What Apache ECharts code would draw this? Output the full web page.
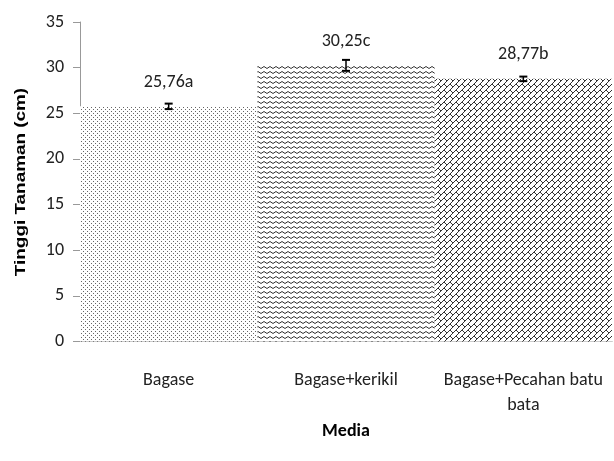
<!DOCTYPE html>
<html><head><meta charset="utf-8">
<script src="https://cdn.jsdelivr.net/npm/echarts@6/dist/echarts.min.js"></script>
<style>html,body{margin:0;padding:0;background:#fff}#c{width:614px;height:461px}</style>
</head><body><div id="c"></div>
<script>
var categories = ['Bagase', 'Bagase+kerikil', 'Bagase+Pecahan batu\nbata'];
var values = [25.76, 30.25, 28.77];
var errors = [0.3, 0.6, 0.25];
var letters = ['25,76a', '30,25c', '28,77b'];
var yTicks = { min: 0, max: 35, interval: 5 };
var yTitle = 'Tinggi Tanaman (cm)';
var xTitle = 'Media';

var FONT = 'Carlito, "Open Sans", sans-serif';

function makeCanvas(w, h, draw) {
  var c = document.createElement('canvas'); c.width = w; c.height = h;
  var g = c.getContext('2d'); g.fillStyle = '#fff'; g.fillRect(0, 0, w, h); draw(g); return c;
}
var dots = makeCanvas(4, 4, function (g) {
  g.fillStyle = '#666'; g.fillRect(1, 1, 1, 1); g.fillRect(3, 3, 1, 1);
});
var zig = makeCanvas(6, 5, function (g) {
  g.strokeStyle = '#333'; g.lineWidth = 1; g.beginPath();
  g.moveTo(0, 1.5); g.lineTo(3, 3.5); g.lineTo(6, 1.5); g.stroke();
});
var brick = makeCanvas(6, 6, function (g) {
  g.strokeStyle = '#333'; g.lineWidth = 1; g.beginPath();
  g.moveTo(-1, 7); g.lineTo(7, -1);
  g.moveTo(-1, 1); g.lineTo(1, -1);
  g.moveTo(5, 7); g.lineTo(7, 5);
  g.moveTo(0, 0); g.lineTo(3, 3);
  g.stroke();
});
var patterns = [dots, zig, brick];

var chart = echarts.init(document.getElementById('c'), null, { renderer: 'canvas' });
chart.setOption({
  animation: false,
  grid: { left: 80, right: 2, top: 22, bottom: 119.5, containLabel: false },
  graphic: [{
    type: 'text', x: 21, y: 182, rotation: Math.PI / 2, scaleX: 1.35,
    style: { text: yTitle, fontFamily: '"Liberation Sans", Arial, sans-serif', fontSize: 14, fontWeight: 'bold', fill: '#000', align: 'center', verticalAlign: 'middle' }
  }],
  xAxis: {
    type: 'category', data: categories,
    name: xTitle, nameLocation: 'middle', nameGap: 81,
    nameTextStyle: { fontFamily: FONT, fontSize: 18, fontWeight: 'bold', color: '#000' },
    axisLine: { lineStyle: { color: '#999' } },
    axisTick: { show: false },
    axisLabel: { fontFamily: FONT, fontSize: 18, color: '#222', margin: 26, lineHeight: 25, interval: 0 }
  },
  yAxis: {
    type: 'value', min: yTicks.min, max: yTicks.max, interval: yTicks.interval,
    axisLine: { show: true, lineStyle: { color: '#999' } },
    axisTick: { show: true, length: 7, lineStyle: { color: '#999' } },
    splitLine: { show: false },
    axisLabel: { fontFamily: FONT, fontSize: 18, color: '#222', margin: 16 }
  },
  series: [{
    type: 'bar', barCategoryGap: '0%',
    data: values.map(function (v, i) {
      return { value: v, itemStyle: { color: { image: patterns[i], repeat: 'repeat' } } };
    }),
    label: {
      show: true, position: 'top', distance: 15,
      fontFamily: FONT, fontSize: 18, color: '#222',
      formatter: function (p) { return letters[p.dataIndex]; }
    }
  }, {
    type: 'custom', z: 10,
    data: values.map(function (v, i) { return [i, v - errors[i], v + errors[i]]; }),
    renderItem: function (params, api) {
      var lo = api.coord([api.value(0), api.value(1)]);
      var hi = api.coord([api.value(0), api.value(2)]);
      var hw = 4;
      return {
        type: 'group', children: [
          { type: 'line', shape: { x1: lo[0], y1: lo[1], x2: hi[0], y2: hi[1] }, style: { stroke: '#000', lineWidth: 1.5 } },
          { type: 'line', shape: { x1: lo[0] - hw, y1: lo[1], x2: lo[0] + hw, y2: lo[1] }, style: { stroke: '#000', lineWidth: 2 } },
          { type: 'line', shape: { x1: hi[0] - hw, y1: hi[1], x2: hi[0] + hw, y2: hi[1] }, style: { stroke: '#000', lineWidth: 2 } }
        ]
      };
    }
  }]
});
</script></body></html>
